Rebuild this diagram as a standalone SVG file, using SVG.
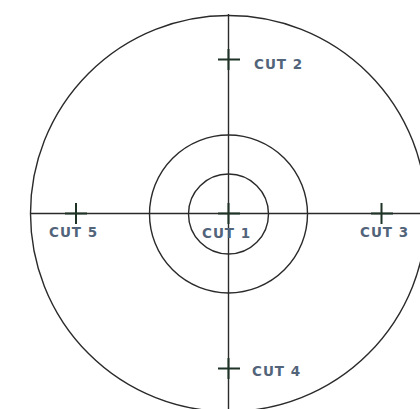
<svg xmlns="http://www.w3.org/2000/svg" width="420" height="409" viewBox="0 0 420 409">
<style>
.ln{fill:none;stroke:#2a2a2a;stroke-width:1.4}
.cr{stroke:#1e3326;stroke-width:2;fill:none}
.lb{font-family:"DejaVu Sans",sans-serif;font-size:13.5px;fill:#52647a;letter-spacing:1px;font-weight:bold}
</style>
<rect width="420" height="409" fill="#ffffff"/>
<g id="circles">
<circle class="ln" cx="228.5" cy="213.5" r="198"/>
<circle class="ln" cx="228.5" cy="214" r="79"/>
<circle class="ln" cx="228.5" cy="214" r="40"/>
</g>
<g id="connectors">
<line class="ln" x1="30" y1="213.5" x2="420" y2="213.5"/>
<line class="ln" x1="228.5" y1="14" x2="228.5" y2="409"/>
</g>
<g id="cut1"><path class="cr" d="M218 213.5H240M228.5 203V224"/><text class="lb" x="202" y="238">CUT 1</text></g>
<g id="cut2"><path class="cr" d="M218 59.5H240M228.5 49V70"/><text class="lb" x="254" y="69">CUT 2</text></g>
<g id="cut3"><path class="cr" d="M371 213.5H393M381.5 203V224"/><text class="lb" x="360" y="237">CUT 3</text></g>
<g id="cut4"><path class="cr" d="M218 368.5H240M228.5 358V379"/><text class="lb" x="252" y="376">CUT 4</text></g>
<g id="cut5"><path class="cr" d="M65 213.5H87M76 203V224"/><text class="lb" x="49" y="237">CUT 5</text></g>
</svg>
